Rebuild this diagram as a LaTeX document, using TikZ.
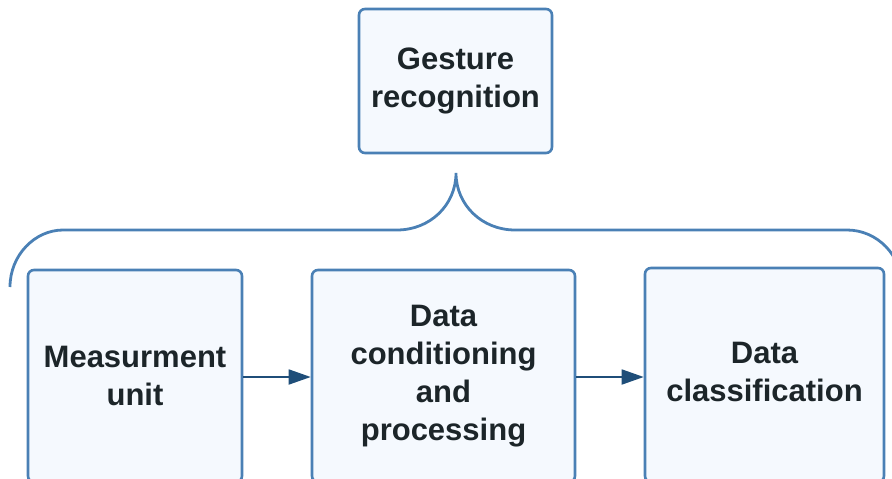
\documentclass[tikz,border=0pt]{standalone}
\usepackage{fontspec}
\setmainfont{Liberation Sans}
\usetikzlibrary{arrows.meta}
\definecolor{boxline}{HTML}{4A80B5}
\definecolor{boxfill}{HTML}{F5F9FE}
\definecolor{arrowcol}{HTML}{1F4E79}
\definecolor{txt}{HTML}{1C2529}
\begin{document}
\begin{tikzpicture}[x=1pt,y=-1pt,
  blockbox/.style={draw=boxline, fill=boxfill, line width=2.6pt, rounded corners=6pt,
    align=center, text=txt, font=\fontsize{31}{38}\selectfont\bfseries, inner sep=0pt},
  flow/.style={draw=arrowcol, line width=1.8pt, -{Triangle[length=22pt,width=15pt]}},
  bracestyle/.style={draw=boxline, line width=2.8pt}]
\useasboundingbox (0,0) rectangle (892,479);
\node[blockbox, minimum width=193pt, minimum height=144pt] (gest) at (455.5,81) {Gesture\\recognition};
\node[blockbox, minimum width=214pt, minimum height=212pt] (meas) at (135,376) {Measurment\\unit};
\node[blockbox, minimum width=263pt, minimum height=212pt] (cond) at (443.5,376) {Data\\conditioning\\and\\processing};
\node[blockbox, minimum width=239pt, minimum height=214pt] (clas) at (764.5,375) {\raisebox{7pt}{\begin{tabular}{@{}c@{}}Data\\classification\end{tabular}}};
\draw[flow] (meas.east |- 0,377) -- (cond.west |- 0,377);
\draw[flow] (cond.east |- 0,377) -- (clas.west |- 0,377);
\coordinate (tip) at (456,173);
\draw[bracestyle] (10,287) .. controls (10,255) and (35,230) .. (63,230)
  -- (397,230) .. controls (430,230) and (456,205) .. (tip)
  .. controls (456,205) and (482,230) .. (515,230)
  -- (847,230) .. controls (877,230) and (902,255) .. (902,287);
\end{tikzpicture}
\end{document}
